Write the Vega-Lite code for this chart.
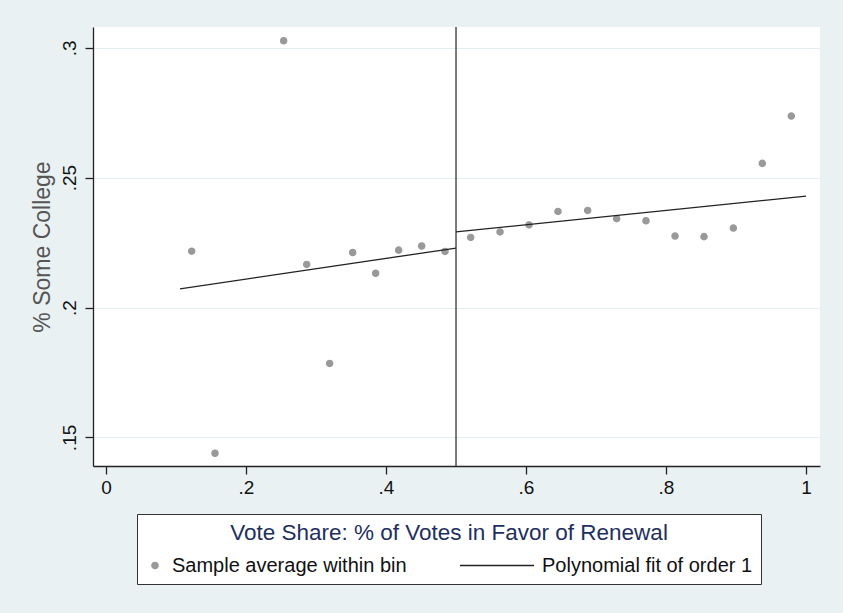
{
  "$schema": "https://vega.github.io/schema/vega-lite/v6.json",
  "width": 727,
  "height": 439,
  "autosize": {"type": "none"},
  "padding": {"left": 93, "top": 27, "right": 23, "bottom": 147},
  "background": "#eaf1f3",
  "config": {
    "view": {"stroke": null, "fill": "white"},
    "font": "Liberation Sans",
    "axis": {
      "domainColor": "#222222",
      "domainWidth": 1.3,
      "tickColor": "#222222",
      "tickWidth": 1.3,
      "tickSize": 8,
      "labelColor": "#111111",
      "labelFontSize": 19,
      "labelFont": "Liberation Sans"
    }
  },
  "datasets": {
    "bins": [
      {"vote_share": 0.1224, "some_college": 0.2217},
      {"vote_share": 0.1557, "some_college": 0.1439},
      {"vote_share": 0.2538, "some_college": 0.3027},
      {"vote_share": 0.2867, "some_college": 0.2166},
      {"vote_share": 0.3195, "some_college": 0.1785},
      {"vote_share": 0.3524, "some_college": 0.2212},
      {"vote_share": 0.3852, "some_college": 0.2132},
      {"vote_share": 0.4181, "some_college": 0.2221},
      {"vote_share": 0.4510, "some_college": 0.2237},
      {"vote_share": 0.4843, "some_college": 0.2216},
      {"vote_share": 0.5210, "some_college": 0.2270},
      {"vote_share": 0.5629, "some_college": 0.2291},
      {"vote_share": 0.6043, "some_college": 0.2318},
      {"vote_share": 0.6457, "some_college": 0.2370},
      {"vote_share": 0.6881, "some_college": 0.2374},
      {"vote_share": 0.7295, "some_college": 0.2342},
      {"vote_share": 0.7714, "some_college": 0.2334},
      {"vote_share": 0.8129, "some_college": 0.2275},
      {"vote_share": 0.8543, "some_college": 0.2273},
      {"vote_share": 0.8962, "some_college": 0.2306},
      {"vote_share": 0.9376, "some_college": 0.2555},
      {"vote_share": 0.9790, "some_college": 0.2737}
    ],
    "fit": [
      {"side": "below", "vote_share": 0.1057, "some_college": 0.2072},
      {"side": "below", "vote_share": 0.5, "some_college": 0.2229},
      {"side": "above", "vote_share": 0.5, "some_college": 0.2291},
      {"side": "above", "vote_share": 1.0, "some_college": 0.2429}
    ]
  },
  "layer": [
    {
      "data": {"name": "bins"},
      "transform": [{"calculate": "'Sample average within bin'", "as": "series"}],
      "mark": {"type": "point", "filled": true, "strokeWidth": 1.2, "opacity": 1},
      "encoding": {
        "x": {
          "field": "vote_share", "type": "quantitative",
          "scale": {"domain": [-0.0186, 1.02], "nice": false, "zero": false},
          "axis": {
            "values": [0, 0.2, 0.4, 0.6, 0.8, 1],
            "grid": false,
            "title": null,
            "labelPadding": 4,
            "labelExpr": "replace(format(datum.value, '~g'), /^0\\./, '.')"
          }
        },
        "y": {
          "field": "some_college", "type": "quantitative",
          "scale": {"domain": [0.139, 0.308], "nice": false, "zero": false},
          "axis": {
            "values": [0.15, 0.2, 0.25, 0.3],
            "grid": true,
            "gridColor": "#e4eef1",
            "gridWidth": 1.2,
            "title": "% Some College",
            "titleColor": "#555555",
            "titleFontSize": 23,
            "titleFontWeight": "normal",
            "titlePadding": 6,
            "labelAngle": -90,
            "labelPadding": 6,
            "labelExpr": "replace(format(datum.value, '~g'), /^0\\./, '.')"
          }
        },
        "color": {
          "field": "series", "type": "nominal",
          "scale": {
            "domain": ["Sample average within bin", "Polynomial fit of order 1"],
            "range": ["#999999", "#222222"]
          },
          "legend": {
            "orient": "none",
            "legendX": 44,
            "legendY": 487,
            "direction": "horizontal",
            "columnPadding": 52,
            "padding": 8,
            "strokeColor": "#333333",
            "fillColor": "white",
            "title": "Vote Share: % of Votes in Favor of Renewal",
            "titleAnchor": "middle",
            "titleFontSize": 22.5,
            "titleFontWeight": "normal",
            "titleColor": "#1e2f5f",
            "titlePadding": 11,
            "titleLimit": 700,
            "labelFontSize": 20,
            "labelColor": "#111111",
            "labelLimit": 400,
            "labelOffset": 7,
            "clipHeight": 20,
            "symbolStrokeWidth": 1.3,
            "symbolOpacity": 1
          }
        },
        "stroke": {
          "field": "series", "type": "nominal",
          "scale": {
            "domain": ["Sample average within bin", "Polynomial fit of order 1"],
            "range": ["#999999", "#222222"]
          }
        },
        "shape": {
          "field": "series", "type": "nominal",
          "scale": {
            "domain": ["Sample average within bin", "Polynomial fit of order 1"],
            "range": ["circle", "stroke"]
          }
        },
        "size": {
          "field": "series", "type": "nominal",
          "scale": {
            "type": "point",
            "padding": 0,
            "domain": ["Sample average within bin", "Polynomial fit of order 1"],
            "range": [40, 5476]
          }
        }
      }
    },
    {
      "data": {"name": "fit"},
      "transform": [{"calculate": "'Polynomial fit of order 1'", "as": "series"}],
      "mark": {"type": "line", "strokeWidth": 1.3},
      "encoding": {
        "x": {"field": "vote_share", "type": "quantitative"},
        "y": {"field": "some_college", "type": "quantitative"},
        "color": {"field": "series", "type": "nominal", "legend": null},
        "detail": {"field": "side", "type": "nominal"}
      }
    },
    {
      "data": {"values": [{}]},
      "mark": {"type": "rule", "color": "#333333", "strokeWidth": 1.3},
      "encoding": {"x": {"datum": 0.5}}
    }
  ]
}
